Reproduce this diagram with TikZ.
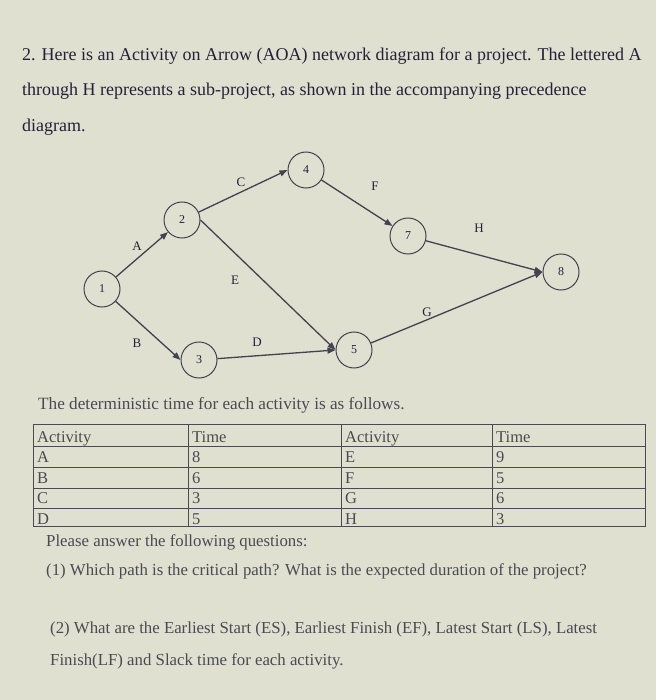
\documentclass[tikz,border=0pt]{standalone}
\usepackage{fontspec}
\setmainfont{Liberation Serif}
\usepackage{tikz}
\usetikzlibrary{arrows.meta, positioning}

\definecolor{paper}{RGB}{223,224,208}
\definecolor{ink}{RGB}{36,32,58}
\definecolor{grayink}{RGB}{74,74,82}
\definecolor{edgeink}{RGB}{66,66,80}

\begin{document}
\begin{tikzpicture}[x=1pt, y=-1pt,
		event/.style={circle, draw=edgeink, line width=1pt, minimum size=36pt, inner sep=0pt, font=\fontsize{12}{13}\selectfont, text=ink},
		activity/.style={draw=edgeink, line width=1.3pt, -{Triangle[length=8pt, width=6pt]}},
		actlabel/.style={font=\fontsize{13}{14}\selectfont, text=ink},
		para/.style={anchor=base west, inner sep=0pt, font=\fontsize{18}{21}\selectfont, text=ink},
		plain/.style={anchor=base west, inner sep=0pt, font=\fontsize{16.8}{19}\selectfont, text=grayink},
		cell/.style={anchor=base west, inner sep=0pt, font=\fontsize{16.5}{19}\selectfont, text=grayink},
		rule/.style={draw=grayink, line width=1pt}]
	\useasboundingbox[fill=paper] (0,0) rectangle (656,700);

	% question text
	\node[para] (q1) at (22,61) {2. Here is an Activity on Arrow (AOA) network diagram for a project. The lettered A};
	\node[para] (q2) at (22,96) {through H represents a sub-project, as shown in the accompanying precedence};
	\node[para] (q3) at (22,132) {diagram.};

	% events
	\coordinate (P1) at (102,289);
	\coordinate (P2) at (182,220);
	\coordinate (P3) at (199,360);
	\coordinate (P4) at (306,170);
	\coordinate (P5) at (354,350);
	\coordinate (P7) at (408,236);
	\coordinate (P8) at (561,272);
	\node[event] (n1) at (P1) {1};
	\node[event] (n2) at (P2) {2};
	\node[event] (n3) at (P3) {3};
	\node[event] (n4) at (P4) {4};
	\node[event] (n5) at (P5) {5};
	\node[event] (n7) at (P7) {7};
	\node[event] (n8) at (P8) {8};

	% activities
	\draw[activity] (n1) -- (n2);
	\draw[activity] (n1) -- (n3.west);
	\draw[activity] (n2) -- (n4.west);
	\draw[activity] (n3) -- (n5.west);
	\draw[activity] (n2.east) -- (n5.west);
	\draw[activity] (n4) -- (n7);
	\draw[activity] (n5) -- (n8.west);
	\draw[activity] (n7) -- (n8.west);
	\node[actlabel] (lA) at (137,246) {A};
	\node[actlabel] (lB) at (137,343) {B};
	\node[actlabel] (lC) at (241,182) {C};
	\node[actlabel] (lD) at (257,342) {D};
	\node[actlabel] (lE) at (235,280) {E};
	\node[actlabel] (lF) at (375,186) {F};
	\node[actlabel] (lG) at (427,312) {G};
	\node[actlabel] (lH) at (479,228) {H};

	% table of times
	\node[plain, font=\fontsize{17.2}{20}\selectfont] (intro) at (38,409) {The deterministic time for each activity is as follows.};
	\draw[rule] (33,424) rectangle (645,526);
	\foreach \y in {446,467,488,508}
		\draw[rule] (33,\y) -- (645,\y);
	\foreach \x in {188,341,492}
		\draw[rule] (\x,424) -- (\x,526);
	\node[cell] (h1) at (37,442) {Activity};
	\node[cell] (h2) at (192,442) {Time};
	\node[cell] (h3) at (345,442) {Activity};
	\node[cell] (h4) at (496,442) {Time};
	\foreach \a/\ta/\b/\tb [count=\r] in {A/8/E/9, B/6/F/5, C/3/G/6, D/5/H/3}
	{
		\node[cell] (a\r) at (37,442+20.5*\r) {\a};
		\node[cell] (ta\r) at (192,442+20.5*\r) {\ta};
		\node[cell] (b\r) at (345,442+20.5*\r) {\b};
		\node[cell] (tb\r) at (496,442+20.5*\r) {\tb};
	}

	% questions
	\node[plain] (ask) at (46,546) {Please answer the following questions:};
	\node[plain] (ask1) at (46,575) {(1) Which path is the critical path? What is the expected duration of the project?};
	\node[plain] (ask2) at (50,633) {(2) What are the Earliest Start (ES), Earliest Finish (EF), Latest Start (LS), Latest};
	\node[plain] (ask3) at (50,665) {Finish(LF) and Slack time for each activity.};
\end{tikzpicture}
\end{document}
